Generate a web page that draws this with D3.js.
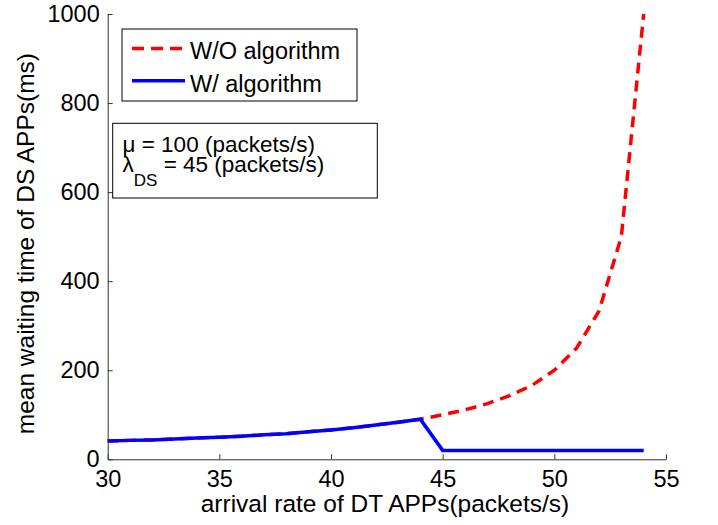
<!DOCTYPE html>
<html>
<head>
<meta charset="utf-8">
<script src="https://cdn.jsdelivr.net/npm/d3@7"></script>
<style>
  body { margin: 0; background: #fff; }
  svg { display: block; font-family: "Liberation Sans", Arial, Helvetica, sans-serif; }
  .axis path, .axis line { stroke: #333; }
</style>
</head>
<body>
<script>
// arrival rate of DT APPs (packets/s)
const rates = [30, 31, 32, 33, 34, 35, 36, 37, 38, 39, 40, 41, 42, 43, 44,
               45, 46, 47, 48, 49, 50, 51, 52, 53, 54];
// mean waiting time (ms)
const withoutAlg = [41, 42.5, 43.5, 45.5, 48, 49.5, 52, 55, 57.5, 62, 66, 71, 77, 83, 90,
                    100, 111, 125, 143, 166, 200, 250, 333, 500, 1000];
const withAlg = [41, 42.5, 43.5, 45.5, 48, 49.5, 52, 55, 57.5, 62, 66, 71, 77, 83, 90,
                 20, 20, 20, 20, 20, 20, 20, 20, 20, 20];
const xTicks = [30, 35, 40, 45, 50, 55];
const yTicks = [0, 200, 400, 600, 800, 1000];
const legendLabels = ['W/O algorithm', 'W/ algorithm'];

const width = 718, height = 525;
const plot = { left: 107.7, right: 666, top: 14, bottom: 459.3 };

const svg = d3.select('body').append('svg')
    .attr('width', width)
    .attr('height', height);

const x = d3.scaleLinear().domain([30, 55]).range([plot.left, plot.right]);
const y = d3.scaleLinear().domain([0, 1000]).range([plot.bottom, plot.top]);

// axes, ticks pointing inward like matlab
svg.append('g')
    .attr('class', 'axis')
    .attr('transform', `translate(0,${plot.bottom})`)
    .call(d3.axisBottom(x).tickValues(xTicks).tickFormat(d3.format('d'))
        .tickSizeInner(-5).tickSizeOuter(0).tickPadding(11));

svg.append('g')
    .attr('class', 'axis')
    .attr('transform', `translate(${plot.left},0)`)
    .call(d3.axisLeft(y).tickValues(yTicks).tickFormat(d3.format('d'))
        .tickSizeInner(-5).tickSizeOuter(0).tickPadding(8));

svg.selectAll('.axis text')
    .attr('font-size', 23.5)
    .attr('font-family', '"Liberation Sans", Arial, sans-serif')
    .attr('fill', '#000');

// axis labels
svg.append('text')
    .attr('x', 385)
    .attr('y', 512)
    .attr('text-anchor', 'middle')
    .attr('font-size', 24.5)
    .text('arrival rate of DT APPs(packets/s)');

svg.append('text')
    .attr('transform', `translate(33.5,${(plot.top + plot.bottom) / 2 + 7}) rotate(-90)`)
    .attr('text-anchor', 'middle')
    .attr('font-size', 24.5)
    .text('mean waiting time of DS APPs(ms)');

// lines
const line = d3.line()
    .x(d => x(d[0]))
    .y(d => y(d[1]));

svg.append('path')
    .datum(rates.map((r, i) => [r, withoutAlg[i]]))
    .attr('fill', 'none')
    .attr('stroke', '#ff0000')
    .attr('stroke-width', 3.5)
    .attr('stroke-dasharray', '11,7')
    .attr('d', line);

svg.append('path')
    .datum(rates.map((r, i) => [r, withAlg[i]]))
    .attr('fill', 'none')
    .attr('stroke', '#0000ff')
    .attr('stroke-width', 3.5)
    .attr('d', line);

// legend
const legend = svg.append('g');
legend.append('rect')
    .attr('x', 122).attr('y', 29)
    .attr('width', 235).attr('height', 72)
    .attr('fill', '#fff')
    .attr('stroke', '#000')
    .attr('stroke-width', 1);

const legendColors = ['#ff0000', '#0000ff'];
const legendDash = ['12,7', null];
legendLabels.forEach((lab, i) => {
    const ly = 48.5 + i * 32.3;
    legend.append('line')
        .attr('x1', 132).attr('x2', 185)
        .attr('y1', ly).attr('y2', ly)
        .attr('stroke', legendColors[i])
        .attr('stroke-width', 3.5)
        .attr('stroke-dasharray', legendDash[i]);
    legend.append('text')
        .attr('x', 190)
        .attr('y', ly + 10.8)
        .attr('font-size', 23.5)
        .text(lab);
});

// parameter box
const note = svg.append('g');
note.append('rect')
    .attr('x', 112.7).attr('y', 123.3)
    .attr('width', 264.6).attr('height', 74.7)
    .attr('fill', '#fff')
    .attr('stroke', '#000')
    .attr('stroke-width', 1);

note.append('text')
    .attr('x', 122.5)
    .attr('y', 152)
    .attr('font-size', 22.5)
    .text('\u03bc = 100 (packets/s)');

const t2 = note.append('text')
    .attr('x', 122.5)
    .attr('y', 172)
    .attr('font-size', 22.5);
t2.append('tspan').text('\u03bb');
t2.append('tspan').attr('font-size', 17).attr('dy', 14).text('DS');
t2.append('tspan').attr('dy', -14).text(' = 45 (packets/s)');
</script>
</body>
</html>
